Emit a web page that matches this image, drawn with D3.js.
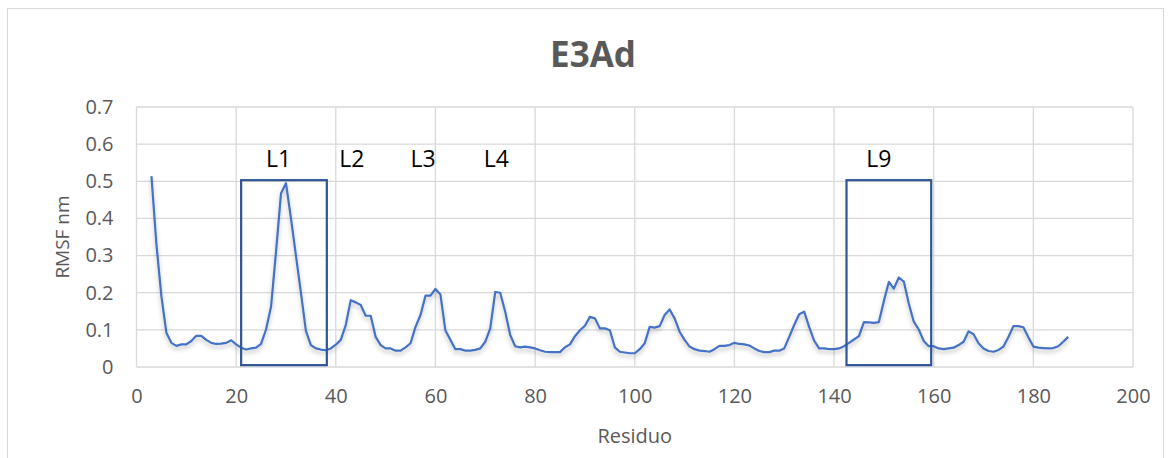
<!DOCTYPE html>
<html>
<head>
<meta charset="utf-8">
<script src="https://cdn.jsdelivr.net/npm/d3@7"></script>
<style>
  body { margin: 0; background: #fff; }
  text { font-family: "Open Sans", sans-serif; }
</style>
</head>
<body>
<div id="chart-area"></div>
<script>
// residues 3..187
const residues = d3.range(3, 188);
const rmsf = [
  0.514, 0.33, 0.19, 0.092, 0.065, 0.057, 0.061, 0.061, 0.07, 0.084,   // 3-12
  0.084, 0.073, 0.065, 0.062, 0.063, 0.065, 0.072, 0.061, 0.052, 0.047, // 13-22
  0.05, 0.052, 0.062, 0.101, 0.162, 0.31, 0.467, 0.495, 0.40, 0.30,     // 23-32
  0.20, 0.097, 0.059, 0.05, 0.047, 0.045, 0.05, 0.06, 0.073, 0.113,     // 33-42
  0.18, 0.174, 0.167, 0.138, 0.138, 0.081, 0.059, 0.05, 0.05, 0.044,    // 43-52
  0.044, 0.053, 0.064, 0.108, 0.14, 0.192, 0.192, 0.21, 0.195, 0.098,   // 53-62
  0.073, 0.048, 0.048, 0.044, 0.044, 0.046, 0.05, 0.068, 0.104, 0.202,  // 63-72
  0.2, 0.149, 0.086, 0.056, 0.053, 0.055, 0.053, 0.05, 0.045, 0.041,    // 73-82
  0.04, 0.04, 0.04, 0.053, 0.061, 0.083, 0.099, 0.111, 0.135, 0.131,    // 83-92
  0.104, 0.104, 0.099, 0.053, 0.041, 0.039, 0.037, 0.037, 0.048, 0.064, // 93-102
  0.108, 0.106, 0.11, 0.14, 0.155, 0.131, 0.095, 0.073, 0.055, 0.048,   // 103-112
  0.044, 0.043, 0.041, 0.048, 0.057, 0.057, 0.059, 0.065, 0.062, 0.061, // 113-122
  0.058, 0.05, 0.043, 0.04, 0.04, 0.044, 0.044, 0.05, 0.081, 0.113,     // 123-132
  0.142, 0.149, 0.108, 0.071, 0.05, 0.05, 0.048, 0.048, 0.05, 0.056,    // 133-142
  0.065, 0.074, 0.083, 0.121, 0.12, 0.119, 0.121, 0.178, 0.229, 0.211,  // 143-152
  0.241, 0.23, 0.171, 0.122, 0.101, 0.07, 0.056, 0.056, 0.05, 0.048,    // 153-162
  0.05, 0.052, 0.059, 0.068, 0.096, 0.088, 0.064, 0.05, 0.043, 0.041,   // 163-172
  0.046, 0.055, 0.081, 0.11, 0.11, 0.107, 0.08, 0.055, 0.052, 0.051,    // 173-182
  0.05, 0.051, 0.056, 0.068, 0.081                                       // 183-187
];
const xTicks = [0, 20, 40, 60, 80, 100, 120, 140, 160, 180, 200];
const yTicks = [0, 0.1, 0.2, 0.3, 0.4, 0.5, 0.6, 0.7];

// loop labels and highlight boxes (residue / RMSF units)
const loopLabels = ["L1", "L2", "L3", "L4", "L9"];
const loopLabelX = [28.5, 43.2, 57.5, 72.2, 149];
const boxes = [
  { x0: 21, x1: 38.2, y0: 0.005, y1: 0.503 },
  { x0: 142.5, x1: 159.5, y0: 0.005, y1: 0.503 }
];

const width = 1170, height = 458;
const margin = { top: 107, right: 37, bottom: 91, left: 136.5 };

const svg = d3.select("#chart-area").append("svg")
    .attr("width", width)
    .attr("height", height);

const defs = svg.append("defs");
const shadow = defs.append("filter").attr("id", "shadow")
    .attr("x", "-5%").attr("y", "-20%").attr("width", "110%").attr("height", "140%");
shadow.append("feDropShadow")
    .attr("dx", 0).attr("dy", 3).attr("stdDeviation", 2)
    .attr("flood-color", "#000").attr("flood-opacity", 0.25);

// outer chart border
svg.append("rect")
    .attr("x", 7.5).attr("y", 8.5)
    .attr("width", 1156).attr("height", 470)
    .attr("fill", "none").attr("stroke", "#d9d9d9");

const x = d3.scaleLinear().domain([0, 200]).range([margin.left, width - margin.right]);
const y = d3.scaleLinear().domain([0, 0.7]).range([height - margin.bottom, margin.top]);

// gridlines
svg.append("g").selectAll("line").data(yTicks).enter()
    .append("line")
    .attr("x1", x(0)).attr("x2", x(200))
    .attr("y1", d => y(d)).attr("y2", d => y(d))
    .attr("stroke", "#d9d9d9").attr("stroke-width", 1.3);

svg.append("g").selectAll("line").data(xTicks).enter()
    .append("line")
    .attr("x1", d => x(d)).attr("x2", d => x(d))
    .attr("y1", y(0)).attr("y2", y(0.7))
    .attr("stroke", "#d9d9d9").attr("stroke-width", 1.3);

// axes (labels only)
const xAxis = svg.append("g")
    .attr("transform", `translate(0,${y(0)})`)
    .call(d3.axisBottom(x).tickValues(xTicks).tickSize(0).tickPadding(22));
const yAxis = svg.append("g")
    .attr("transform", `translate(${x(0)},0)`)
    .call(d3.axisLeft(y).tickValues(yTicks).tickSize(0).tickPadding(23)
        .tickFormat(d => d === 0 ? "0" : d3.format(".1f")(d)));

[xAxis, yAxis].forEach(a => {
    a.select(".domain").remove();
    a.selectAll("text")
        .attr("font-family", "Open Sans, sans-serif")
        .attr("font-size", 20)
        .attr("fill", "#595959");
});

// line
const line = d3.line()
    .x((d, i) => x(residues[i]))
    .y(d => y(d));

svg.append("path")
    .datum(rmsf)
    .attr("d", line)
    .attr("fill", "none")
    .attr("stroke", "#4472c4")
    .attr("stroke-width", 2.2)
    .attr("stroke-linejoin", "round")
    .attr("filter", "url(#shadow)");

// boxes
svg.append("g").selectAll("rect").data(boxes).enter()
    .append("rect")
    .attr("x", d => x(d.x0))
    .attr("y", d => y(d.y1))
    .attr("width", d => x(d.x1) - x(d.x0))
    .attr("height", d => y(d.y0) - y(d.y1))
    .attr("fill", "none")
    .attr("stroke", "#2f5597")
    .attr("stroke-width", 2.2);

// loop labels
svg.append("g").selectAll("text").data(loopLabels).enter()
    .append("text")
    .attr("x", (d, i) => x(loopLabelX[i]))
    .attr("y", 167)
    .attr("text-anchor", "middle")
    .attr("font-size", 23)
    .attr("fill", "#000")
    .text(d => d);

// title
svg.append("text")
    .attr("x", 593).attr("y", 67)
    .attr("text-anchor", "middle")
    .attr("font-size", 35)
    .attr("font-weight", "bold")
    .attr("fill", "#595959")
    .text("E3Ad");

// axis titles
svg.append("text")
    .attr("x", x(100)).attr("y", 443)
    .attr("text-anchor", "middle")
    .attr("font-size", 20)
    .attr("fill", "#595959")
    .text("Residuo");

svg.append("text")
    .attr("transform", `translate(69,${y(0.35)}) rotate(-90)`)
    .attr("text-anchor", "middle")
    .attr("font-size", 19)
    .attr("fill", "#595959")
    .text("RMSF nm");
</script>
</body>
</html>
